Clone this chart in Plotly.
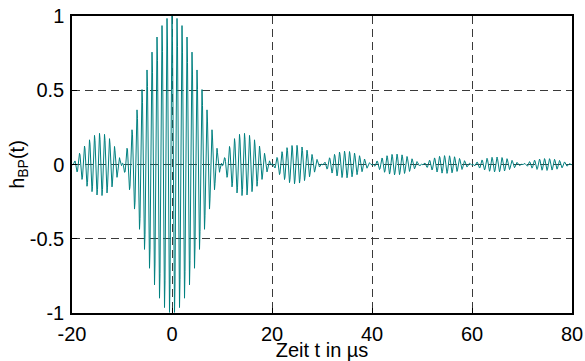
import numpy as np
import plotly.graph_objects as go

# Values
t_start_us = -20.0
t_end_us = 80.0
sample_step_us = 0.1
carrier_period_us = 1.0          # about one oscillation per microsecond
lobe_edges_us = [-20, -10, 10, 20, 30, 40, 50, 60, 70, 80]   # envelope zero crossings
lobe_peak_amplitudes = [0.21, 1.0, 0.21, 0.13, 0.09, 0.07, 0.06, 0.05, 0.04]

x_tick_vals = [-20, 0, 20, 40, 60, 80]
x_tick_text = ["-20", "0", "20", "40", "60", "80"]
y_tick_vals = [-1, -0.5, 0, 0.5, 1]
y_tick_text = ["-1", "-0.5", "0", "0.5", "1"]

# Build the curve from the read lobe peaks and carrier period
t = np.arange(t_start_us, t_end_us + sample_step_us / 2, sample_step_us)
lobe_width = lobe_edges_us[2] - lobe_edges_us[1]
shape = np.sinc(2 * t / lobe_width)
env = np.zeros_like(t)
for i, peak in enumerate(lobe_peak_amplitudes):
    lo, hi = lobe_edges_us[i], lobe_edges_us[i + 1]
    m = (t >= lo) & (t <= hi)
    mx = np.max(np.abs(shape[m]))
    env[m] = peak * shape[m] / mx
h = env * np.cos(2 * np.pi * t / carrier_period_us)

font = dict(family="Liberation Sans, Arial, sans-serif", size=20, color="black")

fig = go.Figure()
fig.add_trace(go.Scatter(x=t, y=h, mode="lines",
                         line=dict(color="rgb(0,128,128)", width=1),
                         hoverinfo="skip", showlegend=False))

axis_common = dict(
    showline=True, linecolor="black", linewidth=1.5, mirror=True,
    ticks="inside", ticklen=5, tickcolor="black", tickwidth=1,
    showgrid=True, gridcolor="#3a3a3a", gridwidth=1, griddash="8px,5px",
    zeroline=False, tickfont=font, automargin=False,
)

fig.update_layout(
    width=585, height=361,
    margin=dict(l=72, r=13, t=16, b=48, autoexpand=False),
    paper_bgcolor="white", plot_bgcolor="white",
    font=font,
    xaxis=dict(range=[t_start_us, t_end_us], tickvals=x_tick_vals, ticktext=x_tick_text,
               ticklabelstandoff=2,
               title=dict(text="Zeit t in µs", font=font, standoff=0), **axis_common),
    yaxis=dict(range=[-1, 1], tickvals=y_tick_vals, ticktext=y_tick_text,
               ticklabelstandoff=2,
               title=dict(text="h<sub>BP</sub>(t)", font=font, standoff=0), **axis_common),
)

fig.write_html("out.html")
